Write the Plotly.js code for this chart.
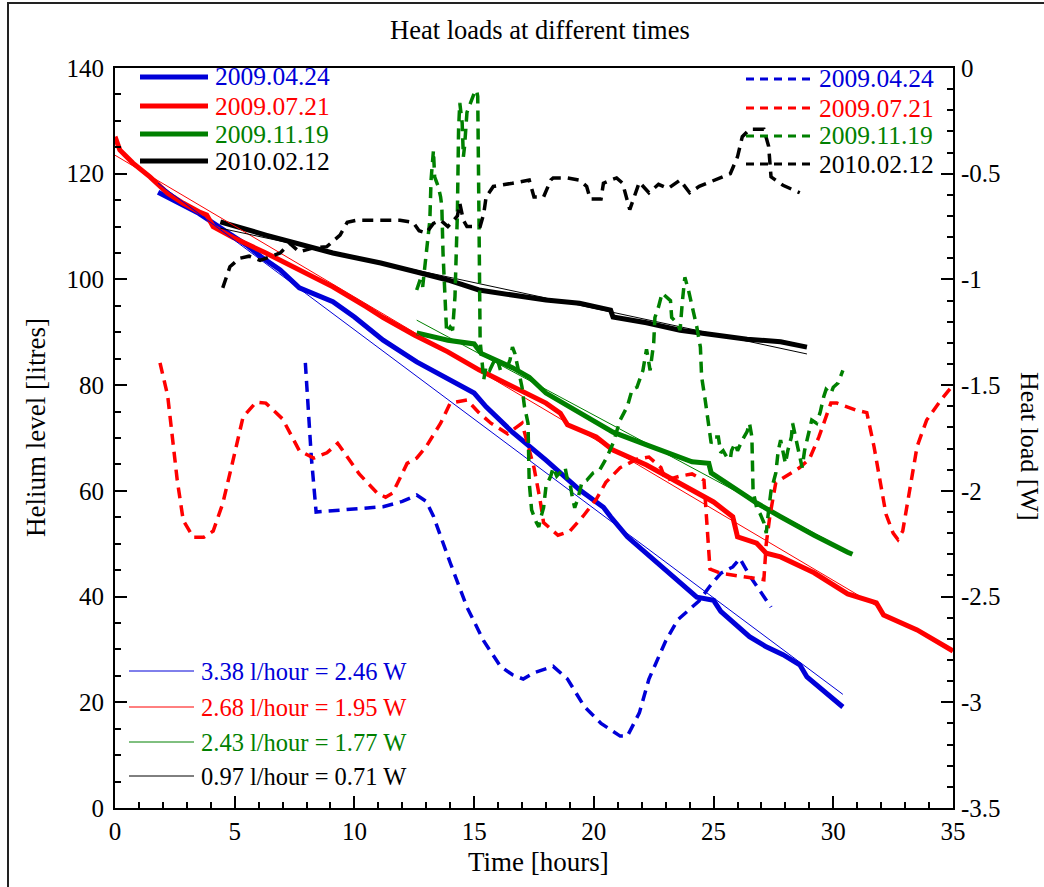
<!DOCTYPE html>
<html>
<head>
<meta charset="utf-8">
<script src="https://cdn.plot.ly/plotly-3.0.1.min.js"></script>
<style>
  html, body { margin: 0; padding: 0; background: #fff; }
  #chart { width: 1044px; height: 887px; }
</style>
</head>
<body>
<div id="chart"></div>
<script>
// ---------------- DATA ----------------
const seriesNames = ["2009.04.24", "2009.07.21", "2009.11.19", "2010.02.12"];
const seriesColors = ["#0000d8", "#ff0000", "#008000", "#000000"];

// Helium level [litres] vs time [hours] (solid)
const tLevel0424 = [1.8, 3.5, 4.5, 5.5, 6.1, 6.9, 7.7, 9.1, 10.0, 11.2, 12.6, 13.9, 15.0, 15.5, 16.6, 18.0, 19.4, 20.4, 20.7, 21.4, 22.5, 23.6, 24.3, 25.0, 25.3, 26.5, 27.2, 27.9, 28.6, 28.9, 30.4];
const level0424  = [116.5, 112.5, 109.5, 106.5, 104.3, 101.8, 98.4, 95.8, 92.9, 88.5, 84.4, 81.3, 78.5, 75.9, 71.1, 65.8, 60.2, 56.9, 55.1, 51.3, 46.9, 42.6, 39.9, 39.3, 37.2, 32.4, 30.5, 29.0, 27.1, 24.8, 19.1];

const tLevel0721 = [0, 0.2, 0.75, 1.46, 2.2, 2.85, 3.5, 3.83, 4.1, 4.9, 6.3, 7.7, 9.1, 10.5, 11.2, 12.5, 13.9, 15.2, 16.6, 18.0, 18.6, 18.9, 20.1, 20.8, 22.2, 23.6, 25.0, 25.8, 26.0, 26.8, 27.2, 27.8, 29.2, 30.6, 31.8, 32.1, 33.5, 35];
const level0721  = [127, 124.5, 122, 119.4, 116.3, 114.4, 112.8, 112.2, 110, 108, 105, 101.8, 98.6, 94.8, 92.8, 89.5, 86.3, 82.9, 79.7, 76.6, 74.7, 72.5, 70.2, 67.7, 64.9, 61.5, 57.9, 55.1, 51.3, 50.1, 48.2, 47.5, 44.5, 40.5, 38.8, 36.5, 33.7, 29.7];

const tLevel1119 = [12.6, 13.9, 15.0, 15.3, 16.6, 17.3, 18.0, 19.4, 20.8, 22.2, 23.6, 24.1, 24.8, 24.9, 26.4, 26.8, 27.8, 29.2, 30.6, 30.8];
const level1119  = [89.9, 88.5, 87.8, 86.0, 83.3, 81.5, 78.5, 74.7, 71.1, 68.7, 66.2, 65.5, 65.2, 63.4, 58.9, 57.7, 55.1, 51.6, 48.4, 48.0];

const tLevel0212 = [4.4, 6.3, 9.1, 11.1, 12.6, 13.9, 15.2, 16.6, 18.0, 19.4, 20.7, 20.8, 22.2, 23.6, 25.0, 26.4, 27.8, 28.9];
const level0212  = [110.9, 108.4, 105, 103.1, 101.4, 99.9, 98.0, 97.0, 96.1, 95.5, 94.2, 92.9, 91.8, 90.4, 89.5, 88.7, 88.2, 87.2];

// Linear fits (end points)
const fitLabels = ["3.38 l/hour = 2.46 W", "2.68 l/hour = 1.95 W", "2.43 l/hour = 1.77 W", "0.97 l/hour = 0.71 W"];
const fitT0424 = [1.8, 30.4];  const fitL0424 = [118.2, 21.5];
const fitT0721 = [0, 32];      const fitL0721 = [123.5, 37.7];
const fitT1119 = [12.6, 30.6]; const fitL1119 = [92.3, 48.6];
const fitT0212 = [4.4, 28.9];  const fitL0212 = [109.7, 85.9];

// Heat load [W] vs time (dashed, right axis)
const tHeat0424 = [7.95, 8.2, 8.4, 9.5, 11.2, 12.0, 12.6, 13.0, 13.3, 14.0, 14.7, 15.4, 16.1, 16.6, 17.05, 17.5, 18.3, 18.9, 19.6, 20.3, 21.1, 21.4, 21.9, 22.3, 23.0, 23.5, 24.0, 24.4, 24.85, 25.3, 25.8, 26.1, 26.5, 26.9, 27.4];
const heat0424  = [-1.395, -1.84, -2.10, -2.09, -2.075, -2.05, -2.02, -2.05, -2.12, -2.34, -2.55, -2.71, -2.83, -2.87, -2.89, -2.86, -2.83, -2.89, -3.02, -3.10, -3.16, -3.16, -3.05, -2.89, -2.71, -2.61, -2.56, -2.52, -2.45, -2.39, -2.36, -2.32, -2.40, -2.47, -2.55];

const tHeat0721 = [1.88, 2.2, 2.6, 2.85, 3.27, 3.7, 4.1, 4.5, 4.9, 5.35, 5.9, 6.3, 7.0, 7.7, 8.3, 8.85, 9.3, 9.7, 10.2, 10.95, 11.3, 11.6, 12.2, 12.6, 13.0, 13.6, 14.0, 14.7, 15.2, 15.7, 16.4, 17.0, 17.3, 17.5, 17.75, 17.9, 18.5, 19.0, 19.55, 20.1, 20.5, 21.1, 21.8, 22.3, 22.8, 23.0, 23.6, 24.1, 24.6, 24.7, 24.85, 25.3, 26.4, 27.1, 27.2, 27.35, 27.6, 28.2, 28.6, 29.0, 29.4, 29.9, 30.15, 31.0, 31.4, 31.7, 31.95, 32.2, 32.5, 32.7, 32.9, 33.2, 33.5, 33.9, 34.5, 35];
const heat0721  = [-1.395, -1.55, -1.95, -2.14, -2.22, -2.22, -2.19, -2.06, -1.87, -1.65, -1.58, -1.585, -1.66, -1.81, -1.845, -1.82, -1.775, -1.84, -1.92, -2.01, -2.03, -2.01, -1.87, -1.845, -1.79, -1.68, -1.585, -1.57, -1.63, -1.68, -1.73, -1.68, -1.81, -1.89, -2.04, -2.15, -2.21, -2.19, -2.12, -2.04, -1.96, -1.89, -1.85, -1.84, -1.89, -1.95, -1.93, -1.92, -1.95, -2.12, -2.37, -2.39, -2.41, -2.42, -2.25, -2.12, -1.96, -1.92, -1.89, -1.85, -1.745, -1.585, -1.585, -1.62, -1.63, -1.79, -1.95, -2.11, -2.20, -2.23, -2.19, -1.98, -1.79, -1.665, -1.57, -1.50];

const tHeat1119 = [12.6, 12.75, 12.85, 13.0, 13.15, 13.2, 13.3, 13.35, 13.5, 13.6, 13.65, 13.7, 13.8, 13.85, 14.0, 14.1, 14.2, 14.3, 14.35, 14.4, 14.5, 14.55, 14.6, 14.7, 14.85, 15.0, 15.1, 15.15, 15.2, 15.25, 15.4, 15.5, 15.65, 15.9, 15.95, 16.1, 16.4, 16.5, 16.6, 16.7, 16.85, 17.0, 17.1, 17.25, 17.3, 17.4, 17.6, 17.7, 17.8, 17.9, 18.0, 18.2, 18.3, 18.45, 18.7, 18.8, 18.9, 19.0, 19.1, 19.2, 19.35, 19.5, 19.7, 19.97, 20.25, 20.55, 20.8, 21.1, 21.4, 21.6, 21.8, 22.05, 22.2, 22.35, 22.5, 22.55, 22.7, 22.85, 23.2, 23.25, 23.5, 23.6, 23.7, 23.8, 23.95, 24.15, 24.3, 24.45, 24.5, 24.65, 24.8, 24.9, 25.05, 25.2, 25.3, 25.4, 25.55, 25.7, 25.75, 25.9, 26.0, 26.2, 26.4, 26.5, 26.6, 26.65, 26.8, 26.95, 27.1, 27.2, 27.3, 27.4, 27.6, 27.7, 27.8, 28.0, 28.1, 28.25, 28.3, 28.5, 28.7, 28.8, 28.95, 29.1, 29.3, 29.45, 29.6, 29.7, 29.9, 30.0, 30.2, 30.3, 30.4];
const heat1119  = [-1.05, -1.0, -1.035, -0.89, -0.72, -0.53, -0.39, -0.515, -0.56, -0.61, -0.655, -0.875, -1.16, -1.25, -1.225, -1.24, -1.08, -0.69, -0.29, -0.165, -0.26, -0.42, -0.37, -0.21, -0.165, -0.12, -0.105, -0.135, -0.69, -1.29, -1.475, -1.41, -1.43, -1.37, -1.37, -1.43, -1.41, -1.38, -1.32, -1.35, -1.43, -1.51, -1.60, -1.68, -1.96, -2.09, -2.15, -2.17, -2.12, -2.08, -1.98, -1.93, -1.89, -1.93, -1.90, -1.89, -1.95, -1.96, -2.03, -2.08, -2.03, -1.96, -1.95, -1.915, -1.90, -1.84, -1.775, -1.665, -1.60, -1.52, -1.51, -1.43, -1.33, -1.43, -1.30, -1.18, -1.13, -1.065, -1.10, -1.18, -1.21, -1.24, -1.10, -0.99, -1.05, -1.145, -1.225, -1.32, -1.46, -1.57, -1.68, -1.775, -1.745, -1.745, -1.82, -1.81, -1.84, -1.85, -1.81, -1.775, -1.81, -1.76, -1.72, -1.68, -1.745, -2.0, -2.08, -2.11, -2.15, -2.20, -2.09, -2.0, -1.915, -1.81, -1.76, -1.87, -1.81, -1.745, -1.68, -1.79, -1.89, -1.81, -1.745, -1.665, -1.68, -1.63, -1.555, -1.52, -1.54, -1.51, -1.49, -1.46, -1.43];

const tHeat0212 = [4.5, 4.8, 5.2, 5.6, 6.06, 6.5, 6.9, 7.3, 7.7, 8.3, 8.85, 9.4, 9.7, 10.1, 11.9, 12.45, 12.7, 13.0, 13.3, 13.6, 13.9, 14.3, 14.4, 14.55, 14.7, 15.25, 15.4, 15.5, 15.8, 16.6, 17.3, 17.5, 17.9, 18.2, 18.3, 18.9, 19.4, 19.7, 19.85, 20.3, 20.4, 20.7, 20.95, 21.2, 21.5, 21.9, 22.3, 22.7, 23.1, 23.6, 24.0, 24.4, 25.1, 25.7, 26.0, 26.2, 26.5, 27.1, 27.3, 27.4, 27.9, 28.6];
const heat0212  = [-1.04, -0.94, -0.90, -0.89, -0.91, -0.89, -0.875, -0.83, -0.87, -0.85, -0.845, -0.79, -0.73, -0.72, -0.72, -0.73, -0.77, -0.78, -0.735, -0.72, -0.75, -0.70, -0.64, -0.72, -0.75, -0.75, -0.69, -0.61, -0.56, -0.545, -0.53, -0.61, -0.61, -0.53, -0.52, -0.52, -0.53, -0.56, -0.62, -0.62, -0.545, -0.53, -0.52, -0.545, -0.67, -0.54, -0.59, -0.55, -0.57, -0.53, -0.59, -0.56, -0.53, -0.50, -0.42, -0.325, -0.29, -0.29, -0.37, -0.515, -0.555, -0.59];

// Tick labels
const xTickVals = [0, 5, 10, 15, 20, 25, 30, 35];
const yTickVals = [0, 20, 40, 60, 80, 100, 120, 140];
const y2TickVals = [0, -0.5, -1, -1.5, -2, -2.5, -3, -3.5];
const y2TickText = ["0", "-0.5", "-1", "-1.5", "-2", "-2.5", "-3", "-3.5"];

const chartTitle = "Heat loads at different times";
const xTitle = "Time [hours]";
const yTitle = "Helium level [litres]";
const y2Title = "Heat load [W]";

// ---------------- LAYOUT GEOMETRY ----------------
const W = 1044, H = 887;
const M = { l: 115, r: 91, t: 68, b: 79 };
const PW = W - M.l - M.r, PH = H - M.t - M.b;
const px = x => (x - M.l) / PW;          // pixel -> paper x
const py = y => (H - M.b - y) / PH;       // pixel -> paper y
const FONT = "Liberation Serif";

const solidT = [tLevel0424, tLevel0721, tLevel1119, tLevel0212];
const solidL = [level0424, level0721, level1119, level0212];
const fitT = [fitT0424, fitT0721, fitT1119, fitT0212];
const fitL = [fitL0424, fitL0721, fitL1119, fitL0212];
const heatT = [tHeat0424, tHeat0721, tHeat1119, tHeat0212];
const heatW = [heat0424, heat0721, heat1119, heat0212];

const traces = [];
for (let i = 0; i < 4; i++) {
  traces.push({ x: solidT[i], y: solidL[i], type: "scatter", mode: "lines",
    line: { color: seriesColors[i], width: 5 }, name: seriesNames[i], showlegend: false, hoverinfo: "skip" });
}
for (let i = 0; i < 4; i++) {
  traces.push({ x: fitT[i], y: fitL[i], type: "scatter", mode: "lines",
    line: { color: seriesColors[i], width: 1 }, name: fitLabels[i], showlegend: false, hoverinfo: "skip" });
}
for (let i = 0; i < 4; i++) {
  traces.push({ x: heatT[i], y: heatW[i], yaxis: "y2", type: "scatter", mode: "lines",
    line: { color: seriesColors[i], width: 3.5, dash: "11px,7px" }, name: seriesNames[i] + " heat", showlegend: false, hoverinfo: "skip" });
}

const shapes = [];
const annotations = [];

// Top-left legend (solid)
const tlY = [77, 106, 134, 161];
for (let i = 0; i < 4; i++) {
  shapes.push({ type: "line", xref: "paper", yref: "paper", x0: px(140), x1: px(208), y0: py(tlY[i]), y1: py(tlY[i]),
    line: { color: seriesColors[i], width: 5 } });
  annotations.push({ xref: "paper", yref: "paper", x: px(213), y: py(tlY[i]), xanchor: "left", yanchor: "middle",
    text: seriesNames[i], showarrow: false, font: { family: FONT, size: 25.5, color: seriesColors[i] } });
}
// Top-right legend (dashed)
const trY = [79, 108, 136, 164];
for (let i = 0; i < 4; i++) {
  shapes.push({ type: "line", xref: "paper", yref: "paper", x0: px(746), x1: px(813), y0: py(trY[i]), y1: py(trY[i]),
    line: { color: seriesColors[i], width: 3, dash: "8px,6px" } });
  annotations.push({ xref: "paper", yref: "paper", x: px(817), y: py(trY[i]), xanchor: "left", yanchor: "middle",
    text: seriesNames[i], showarrow: false, font: { family: FONT, size: 25.5, color: seriesColors[i] } });
}
// Bottom-left legend (fits)
const blY = [671, 707, 742, 776];
for (let i = 0; i < 4; i++) {
  shapes.push({ type: "line", xref: "paper", yref: "paper", x0: px(129), x1: px(194), y0: py(blY[i]), y1: py(blY[i]),
    line: { color: seriesColors[i], width: 1 } });
  annotations.push({ xref: "paper", yref: "paper", x: px(199), y: py(blY[i]), xanchor: "left", yanchor: "middle",
    text: fitLabels[i], showarrow: false, font: { family: FONT, size: 24.5, color: seriesColors[i] } });
}
// Outer frame
shapes.push({ type: "rect", xref: "paper", yref: "paper", x0: px(8), x1: px(1060), y0: py(900), y1: py(3),
  line: { color: "#222", width: 2 }, fillcolor: "rgba(0,0,0,0)", layer: "below" });

// Titles
annotations.push({ xref: "paper", yref: "paper", x: px(540), y: py(30), xanchor: "center", yanchor: "middle",
  text: chartTitle, showarrow: false, font: { family: FONT, size: 26.5, color: "#000" } });
annotations.push({ xref: "paper", yref: "paper", x: px(538), y: py(862), xanchor: "center", yanchor: "middle",
  text: xTitle, showarrow: false, font: { family: FONT, size: 27, color: "#000" } });
annotations.push({ xref: "paper", yref: "paper", x: px(36), y: py(428), xanchor: "center", yanchor: "middle",
  text: yTitle, textangle: -90, showarrow: false, font: { family: FONT, size: 27, color: "#000" } });
annotations.push({ xref: "paper", yref: "paper", x: px(1030), y: py(446), xanchor: "center", yanchor: "middle",
  text: y2Title, textangle: 90, showarrow: false, font: { family: FONT, size: 26, color: "#000" } });

const tickFont = { family: FONT, size: 25, color: "#000" };
const layout = {
  width: W, height: H,
  margin: M,
  font: { family: FONT, color: "#000" },
  paper_bgcolor: "#fff", plot_bgcolor: "#fff",
  showlegend: false,
  xaxis: {
    range: [0, 35], tickvals: xTickVals, ticks: "inside", ticklen: 12, tickwidth: 2, tickcolor: "#000",
    showline: true, linewidth: 2, linecolor: "#000", mirror: true, showgrid: false, zeroline: false,
    tickfont: tickFont, ticklabelstandoff: 0,
    minor: { dtick: 1, tick0: 0, ticks: "inside", ticklen: 6, tickwidth: 2, tickcolor: "#000", showgrid: false }
  },
  yaxis: {
    range: [0, 140], tickvals: yTickVals, ticks: "inside", ticklen: 12, tickwidth: 2, tickcolor: "#000",
    showline: true, linewidth: 2, linecolor: "#000", showgrid: false, zeroline: false,
    tickfont: tickFont, ticklabelstandoff: 4,
    minor: { dtick: 5, tick0: 0, ticks: "inside", ticklen: 6, tickwidth: 2, tickcolor: "#000", showgrid: false }
  },
  yaxis2: {
    range: [-3.5, 0], overlaying: "y", side: "right", tickvals: y2TickVals, ticktext: y2TickText,
    ticks: "inside", ticklen: 12, tickwidth: 2, tickcolor: "#000",
    showline: true, linewidth: 2, linecolor: "#000", showgrid: false, zeroline: false,
    tickfont: tickFont, ticklabelstandoff: 1,
    minor: { dtick: 0.1, tick0: 0, ticks: "inside", ticklen: 6, tickwidth: 2, tickcolor: "#000", showgrid: false }
  },
  shapes: shapes,
  annotations: annotations
};

Plotly.newPlot("chart", traces, layout, { staticPlot: true, displayModeBar: false });
</script>
</body>
</html>
